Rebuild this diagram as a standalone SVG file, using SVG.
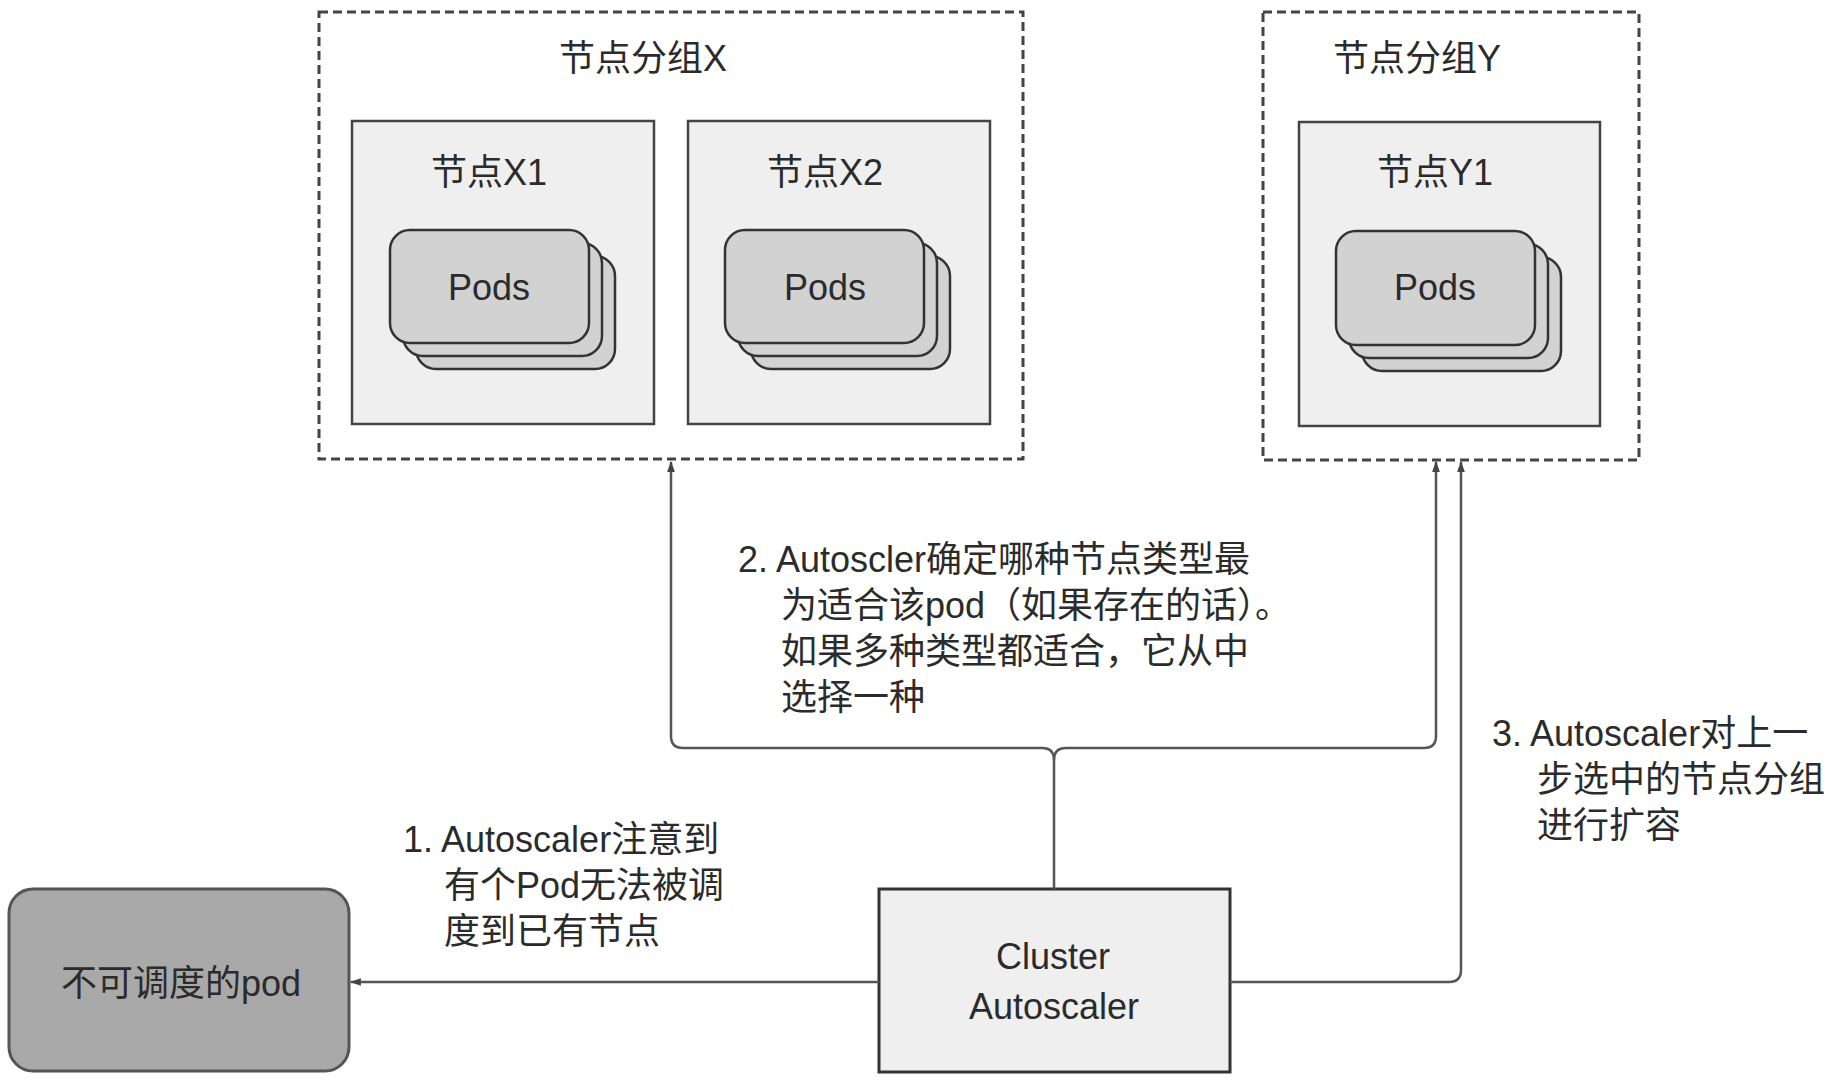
<svg xmlns="http://www.w3.org/2000/svg" width="1842" height="1082" viewBox="0 0 1842 1082">
<style>
  text { font-family: "Liberation Sans", "Noto Sans CJK SC", sans-serif; font-size: 36px; fill: #2b2b2b; }
  .c { text-anchor: middle; }
  .group { fill: none; stroke: #444; stroke-width: 3; stroke-dasharray: 9 5; }
  .node { fill: #efefef; stroke: #444; stroke-width: 2.5; }
  .pod { fill: #d2d2d2; stroke: #333; stroke-width: 2.5; }
  .conn { fill: none; stroke: #555; stroke-width: 2.5; }
</style>
<defs>
  <marker id="arr" viewBox="0 0 10 10" refX="9" refY="5" markerWidth="11" markerHeight="11" markerUnits="userSpaceOnUse" orient="auto">
    <path d="M0,1.5 L10,5 L0,8.5 z" fill="#444"/>
  </marker>
</defs>
<rect width="1842" height="1082" fill="#ffffff"/>

<g id="group-x">
  <rect class="group" x="319" y="12" width="704" height="447"/>
  <text class="c" x="643" y="71">节点分组X</text>
</g>
<g id="node-x1">
  <rect class="node" x="352" y="121" width="302" height="303"/>
  <text class="c" x="489" y="185">节点X1</text>
  <rect class="pod" x="416" y="256" width="199" height="113" rx="20"/>
  <rect class="pod" x="403" y="243" width="199" height="113" rx="20"/>
  <rect class="pod" x="390" y="230" width="199" height="113" rx="20"/>
  <text class="c" x="489" y="300">Pods</text>
</g>
<g id="node-x2">
  <rect class="node" x="688" y="121" width="302" height="303"/>
  <text class="c" x="825" y="185">节点X2</text>
  <rect class="pod" x="751" y="256" width="199" height="113" rx="20"/>
  <rect class="pod" x="738" y="243" width="199" height="113" rx="20"/>
  <rect class="pod" x="725" y="230" width="199" height="113" rx="20"/>
  <text class="c" x="825" y="300">Pods</text>
</g>
<g id="group-y">
  <rect class="group" x="1263" y="12" width="376" height="448"/>
  <text class="c" x="1417" y="71">节点分组Y</text>
</g>
<g id="node-y1">
  <rect class="node" x="1299" y="122" width="301" height="304"/>
  <text class="c" x="1435" y="185">节点Y1</text>
  <rect class="pod" x="1362" y="257" width="199" height="114" rx="20"/>
  <rect class="pod" x="1349" y="244" width="199" height="114" rx="20"/>
  <rect class="pod" x="1336" y="231" width="199" height="114" rx="20"/>
  <text class="c" x="1435" y="300">Pods</text>
</g>
<g id="unschedulable-pod">
  <rect x="9" y="889" width="340" height="182" rx="24" fill="#a9a9a9" stroke="#555" stroke-width="3"/>
  <text class="c" x="181" y="996">不可调度的pod</text>
</g>
<g id="cluster-autoscaler">
  <rect x="879" y="889" width="351" height="183" fill="#efefef" stroke="#333" stroke-width="3"/>
  <text class="c" x="1053" y="969">Cluster</text>
  <text class="c" x="1054" y="1019">Autoscaler</text>
</g>

<g id="connectors">
  <path class="conn" d="M1054 889 V760 Q1054 748 1042 748 H683 Q671 748 671 736 V462" marker-end="url(#arr)"/>
  <path class="conn" d="M1054 760 Q1054 748 1066 748 H1424 Q1436 748 1436 736 V462" marker-end="url(#arr)"/>
  <path class="conn" d="M1230 982 H1449 Q1461 982 1461 970 V462" marker-end="url(#arr)"/>
  <path class="conn" d="M879 982 H351" marker-end="url(#arr)"/>
</g>

<g id="labels">
  <text x="403" y="852">1. Autoscaler注意到</text>
  <text x="444" y="898">有个Pod无法被调</text>
  <text x="444" y="944">度到已有节点</text>
  <text x="738" y="572">2. Autoscler确定哪种节点类型最</text>
  <text x="781" y="618">为适合该pod（如果存在的话）。</text>
  <text x="781" y="664">如果多种类型都适合，它从中</text>
  <text x="781" y="710">选择一种</text>
  <text x="1492" y="746">3. Autoscaler对上一</text>
  <text x="1537" y="792">步选中的节点分组</text>
  <text x="1537" y="838">进行扩容</text>
</g>
</svg>
